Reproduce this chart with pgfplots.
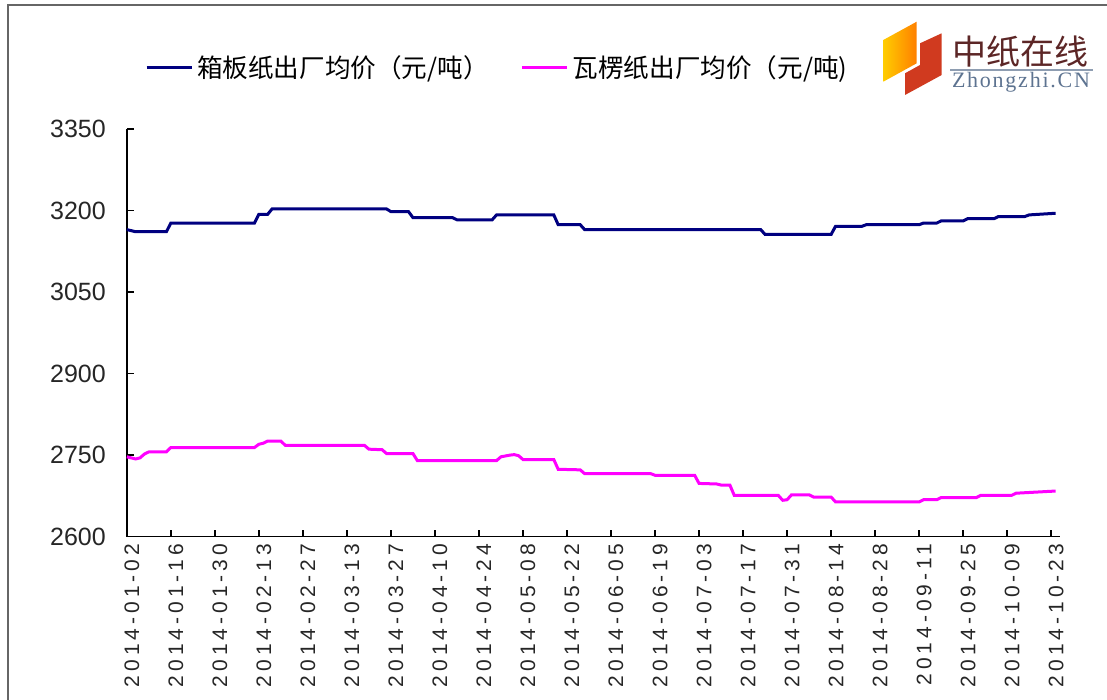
\documentclass[border=0pt]{standalone}
\usepackage{pgfplots}
\pgfplotsset{compat=1.18}
\usepackage{pgfplotstable}
\usepackage{fontspec}
\setmainfont{Liberation Sans}
\newfontfamily\cjk{Noto Sans CJK SC}
\newfontfamily\cjklogo{Noto Sans CJK SC}
\newfontfamily\xlab[LetterSpace=19]{Liberation Sans}
\newfontfamily\logoserif[LetterSpace=8]{Liberation Serif}
\definecolor{navyline}{RGB}{0,0,128}
\definecolor{magline}{RGB}{255,0,255}
\definecolor{logored}{RGB}{208,58,31}
\definecolor{logotext}{RGB}{92,38,38}
\definecolor{logoblue}{RGB}{93,115,144}

\pgfplotstableread{
i v
0 3165
2 3161
9 3161
10 3177
29 3177
30 3193
32 3193
33 3203
59 3203
60 3198
64 3198
65 3187
74 3187
75 3183
83 3183
84 3192
97 3192
98 3174
103 3174
104 3165
144 3165
145 3156
160 3156
161 3171
167 3171
168 3174
180 3174
181 3177
184 3177
185 3181
190 3181
191 3185
197 3185
198 3189
204 3189
205 3192
211 3195
}\boxboard

\pgfplotstableread{
i v
0 2747
2 2743
3 2745
4 2752
5 2756
9 2756
10 2764
29 2764
30 2770
31 2772
32 2776
35 2776
36 2768
54 2768
55 2761
58 2760
59 2753
65 2753
66 2740
84 2740
85 2747
87 2750
88 2751
89 2749
90 2742
97 2742
98 2724
103 2723
104 2716
119 2716
120 2713
129 2713
130 2698
134 2697
135 2695
137 2695
138 2676
148 2676
149 2667
150 2668
151 2677
155 2677
156 2673
160 2673
161 2664
180 2664
181 2668
184 2668
185 2672
193 2672
194 2676
201 2676
202 2680
211 2684
}\corrugated

\begin{document}
\begin{tikzpicture}
\useasboundingbox (0,0) rectangle (553.5pt,350pt);
\draw[black!60, line width=1pt] (4pt,347.5pt) rectangle (600pt,-20pt);
\begin{axis}[
  at={(63.4pt,81.65pt)}, anchor=south west,
  scale only axis, width=466.6pt, height=203.85pt,
  xmin=0, xmax=212, ymin=2600, ymax=3350,
  axis lines=left, axis line style={-, line width=0.75pt, black},
  tick align=inside, major tick length=3.5pt,
  tick style={line width=0.75pt, black},
  ytick={2600,2750,2900,3050,3200,3350},
  xtick={0,10,...,210},
  xticklabels={2014-01-02,2014-01-16,2014-01-30,2014-02-13,2014-02-27,2014-03-13,2014-03-27,2014-04-10,2014-04-24,2014-05-08,2014-05-22,2014-06-05,2014-06-19,2014-07-03,2014-07-17,2014-07-31,2014-08-14,2014-08-28,2014-09-11,2014-09-25,2014-10-09,2014-10-23},
  /pgf/number format/assume math mode=true,
  /pgf/number format/1000 sep={},
  yticklabel style={font=\fontsize{12.5}{14}\selectfont, text=black!85, xshift=-7pt},
  xticklabel style={font=\xlab\fontsize{10.5}{12}\selectfont, text=black!85, rotate=90, anchor=east, yshift=-2.5pt},
  legend style={at={(0.398,1.15)}, anchor=center, draw=none, fill=none,
    font=\cjk\fontsize{12.8}{14}\selectfont, legend columns=2,
    /tikz/every even column/.append style={column sep=14pt}},
  legend image code/.code={\draw[#1, line width=1.5pt] (0pt,0pt) -- (22.5pt,0pt);},
  clip=false,
]
\addplot[navyline, line width=1.5pt] table[x=i, y=v] {\boxboard};
\addlegendentry{箱板纸出厂均价（元/吨）}
\addplot[magline, line width=1.5pt] table[x=i, y=v] {\corrugated};
\addlegendentry{瓦楞纸出厂均价（元/吨)}
\end{axis}
% logo
\shade[left color=yellow!60!orange, right color=orange] (441.65pt,330pt) -- (458.35pt,339.15pt) -- (458.35pt,318.35pt) -- (441.65pt,309.15pt) -- cycle;
\fill[logored] (460pt,328.35pt) -- (470.85pt,333.35pt) -- (470.85pt,312.5pt) -- (452.5pt,302.5pt) -- (452.5pt,313.35pt) -- (460pt,317.5pt) -- cycle;
\node[text=logotext, font=\cjklogo\fontsize{17}{18}\selectfont, inner sep=0pt] at (510pt,324pt) {中纸在线};
\draw[logoblue!70, line width=1pt] (475pt,315pt) -- (546.5pt,315pt);
\node[text=logoblue, font=\logoserif\fontsize{11}{12}\selectfont, inner sep=0pt] at (510.5pt,309pt) {Zhongzhi.CN};
\end{tikzpicture}
\end{document}
